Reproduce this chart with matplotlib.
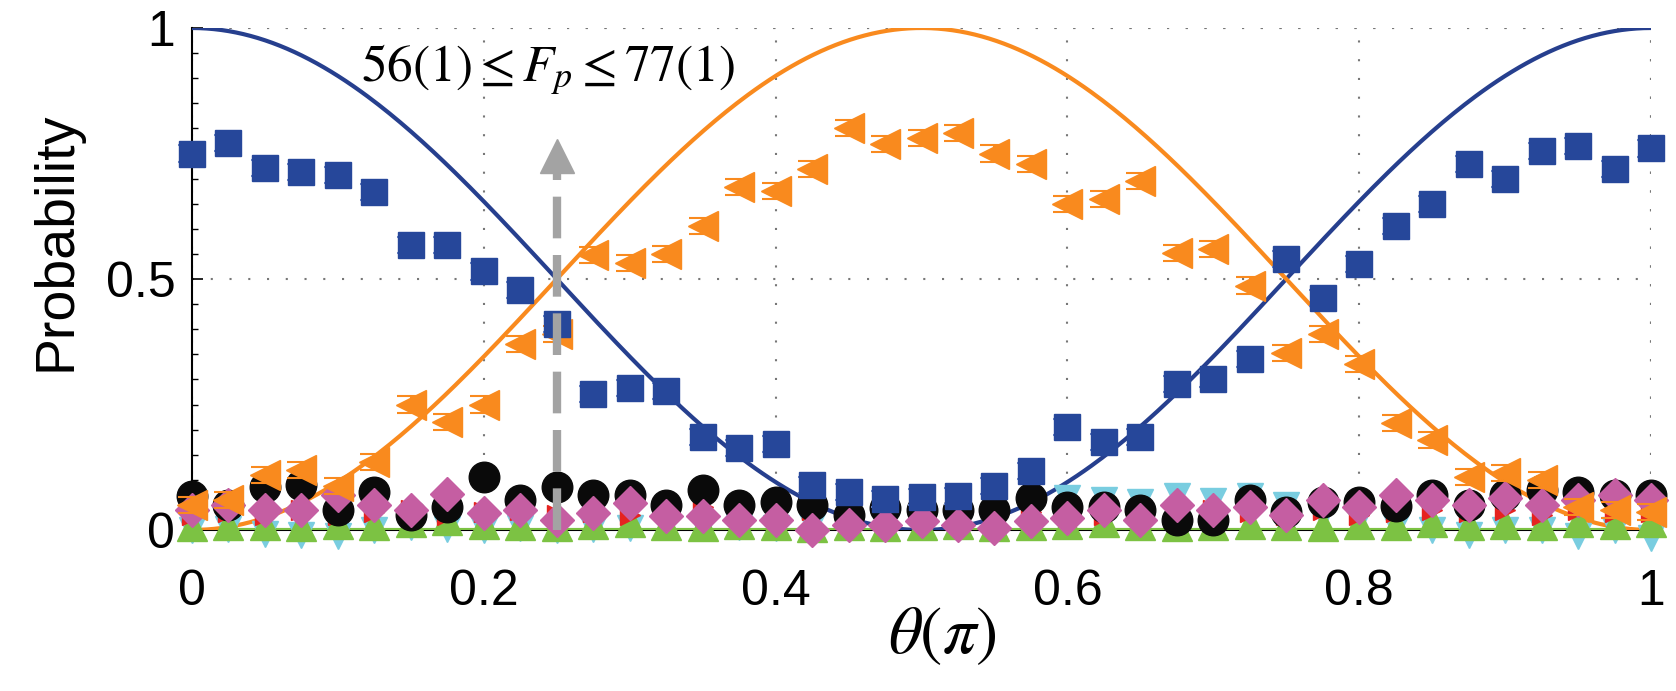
"""
Probability vs theta(pi): measured outcome probabilities with cos^2 / sin^2 theory curves.
"""
import numpy as np
import matplotlib
matplotlib.use("Agg")
import matplotlib.pyplot as plt

plt.rcParams["font.family"] = ["Liberation Sans", "DejaVu Sans"]
plt.rcParams["mathtext.fontset"] = "stix"

# ---------- data ----------
theta = [0.000, 0.025, 0.050, 0.075, 0.100, 0.125, 0.150, 0.175, 0.200, 0.225,
         0.250, 0.275, 0.300, 0.325, 0.350, 0.375, 0.400, 0.425, 0.450, 0.475,
         0.500, 0.525, 0.550, 0.575, 0.600, 0.625, 0.650, 0.675, 0.700, 0.725,
         0.750, 0.775, 0.800, 0.825, 0.850, 0.875, 0.900, 0.925, 0.950, 0.975,
         1.000]

p_blue = [0.750, 0.770, 0.722, 0.713, 0.708, 0.673, 0.567, 0.567, 0.515, 0.478,
          0.410, 0.270, 0.283, 0.277, 0.185, 0.163, 0.172, 0.090, 0.075, 0.062,
          0.066, 0.068, 0.088, 0.118, 0.205, 0.175, 0.185, 0.290, 0.300, 0.340,
          0.540, 0.462, 0.530, 0.605, 0.650, 0.730, 0.700, 0.755, 0.765, 0.720,
          0.760]
err_blue = [0.016] * 41

p_orange = [0.050, 0.060, 0.110, 0.120, 0.088, 0.136, 0.250, 0.215, 0.250, 0.370,
            0.390, 0.548, 0.531, 0.550, 0.606, 0.684, 0.675, 0.720, 0.800, 0.768,
            0.780, 0.790, 0.750, 0.730, 0.650, 0.660, 0.696, 0.552, 0.560, 0.487,
            0.353, 0.390, 0.330, 0.213, 0.180, 0.106, 0.113, 0.100, 0.045, 0.040,
            0.035]
err_orange = [0.016] * 41

p_black = [0.068, 0.050, 0.085, 0.090, 0.040, 0.075, 0.030, 0.045, 0.105, 0.060,
           0.085, 0.070, 0.070, 0.050, 0.080, 0.050, 0.055, 0.050, 0.030, 0.044,
           0.040, 0.040, 0.040, 0.063, 0.045, 0.045, 0.040, 0.020, 0.020, 0.060,
           0.035, 0.055, 0.055, 0.048, 0.070, 0.050, 0.070, 0.080, 0.075, 0.070,
           0.070]

p_pink = [0.040, 0.050, 0.040, 0.040, 0.070, 0.050, 0.040, 0.072, 0.033, 0.040,
          0.020, 0.033, 0.053, 0.027, 0.027, 0.020, 0.020, 0.000, 0.010, 0.010,
          0.017, 0.010, 0.003, 0.017, 0.023, 0.040, 0.020, 0.050, 0.040, 0.045,
          0.030, 0.060, 0.045, 0.070, 0.060, 0.050, 0.064, 0.050, 0.060, 0.070,
          0.060]

p_green = [0.008, 0.010, 0.010, 0.008, 0.012, 0.010, 0.015, 0.020, 0.012, 0.010,
           0.008, 0.012, 0.015, 0.010, 0.008, 0.012, 0.010, 0.006, 0.010, 0.008,
           0.010, 0.012, 0.008, 0.010, 0.012, 0.015, 0.010, 0.008, 0.010, 0.012,
           0.010, 0.008, 0.012, 0.010, 0.015, 0.010, 0.012, 0.010, 0.015, 0.012,
           0.015]

p_cyan = [0.000, 0.002, -0.008, -0.010, -0.012, 0.000, 0.005, 0.002, 0.000, 0.003,
          0.000, 0.002, 0.004, 0.005, 0.003, 0.006, 0.004, 0.008, 0.010, 0.012,
          0.015, 0.020, 0.030, 0.045, 0.063, 0.060, 0.055, 0.067, 0.057, 0.067,
          0.050, 0.030, 0.020, 0.005, 0.000, -0.010, 0.000, 0.000, -0.012, 0.000,
          -0.015]

p_red = [0.030, 0.035, 0.030, 0.040, 0.030, 0.035, 0.040, 0.030, 0.035, 0.040,
         0.030, 0.035, 0.030, 0.040, 0.045, 0.035, 0.030, 0.040, 0.030, 0.035,
         0.030, 0.040, 0.030, 0.035, 0.040, 0.030, 0.035, 0.030, 0.040, 0.035,
         0.030, 0.040, 0.030, 0.035, 0.040, 0.035, 0.040, 0.030, 0.040, 0.035,
         0.035]

x_ticks = [0, 0.2, 0.4, 0.6, 0.8, 1]
x_ticklabels = ["0", "0.2", "0.4", "0.6", "0.8", "1"]
y_ticks = [0, 0.5, 1]
y_ticklabels = ["0", "0.5", "1"]

BLUE = "#26479a"
BLUE_LINE = "#263f8e"
ORANGE = "#f98a1e"
BLACK = "#0a0a0a"
PINK = "#c55ea2"
GREEN = "#7cc243"
CYAN = "#79cde0"
RED = "#e52320"
GRAY = "#a3a3a3"
GRID = "#777777"

# ---------- figure ----------
fig = plt.figure(figsize=(16.76, 6.91), dpi=100)
ax = fig.add_axes([192 / 1676, 1 - 530 / 691, 1459 / 1676, 502 / 691])

# theory curves
th = np.linspace(0, 1, 400)
ax.plot(th, np.cos(np.pi * th) ** 2, color=BLUE_LINE, lw=3.0, zorder=3)
ax.plot(th, np.sin(np.pi * th) ** 2, color=ORANGE, lw=3.0, zorder=3)
ax.plot(th, np.zeros_like(th), color=GREEN, lw=3.0, zorder=2)

# small-probability outcomes
kw = dict(linestyle="none", clip_on=False)
ax.plot(theta, p_cyan, marker="v", ms=19, color=CYAN, zorder=4, **kw)
ax.plot(theta, p_green, marker="^", ms=21, color=GREEN, zorder=5, **kw)
ax.plot(theta, p_red, marker=">", ms=15, color=RED, zorder=6, **kw)
ax.plot(theta, p_black, marker="o", ms=22, color=BLACK, zorder=7, **kw)
ax.plot(theta, p_pink, marker="D", ms=17, color=PINK, zorder=8, **kw)

# main outcomes with error bars
ax.errorbar(theta, p_orange, yerr=err_orange, fmt="<", ms=21, color=ORANGE,
            ecolor=ORANGE, elinewidth=1.5, capsize=10, capthick=1.5,
            zorder=9, clip_on=False)
ax.errorbar(theta, p_blue, yerr=err_blue, fmt="s", ms=19, color=BLUE,
            ecolor="#6d86c4", elinewidth=1.5, capsize=10, capthick=1.5,
            zorder=10, clip_on=False)

# dashed arrow at theta = pi/4
ax.plot([0.25, 0.25], [0.0, 0.72], color=GRAY, lw=6, dashes=(5, 2), zorder=11)
ax.plot([0.25], [0.745], marker="^", ms=24, color=GRAY, zorder=11, clip_on=False)

ax.text(0.244, 0.895, r"$56\left(1\right)\leq F_p\leq 77\left(1\right)$", fontsize=37,
        ha="center", va="baseline", zorder=12)

# ---------- axes styling ----------
ax.set_xlim(0, 1)
ax.set_ylim(0, 1)
ax.set_xticks(x_ticks)
ax.set_xticklabels(x_ticklabels)
ax.set_yticks(y_ticks)
ax.set_yticklabels(y_ticklabels)
ax.set_yticks(np.arange(0, 1.0001, 0.05), minor=True)
ax.tick_params(axis="both", which="major", direction="in", labelsize=36, length=8, width=1.2)
ax.tick_params(axis="x", which="major", pad=28)
ax.tick_params(axis="y", which="major", pad=12)
ax.tick_params(axis="y", which="minor", direction="in", length=4, width=1.0)
ax.tick_params(axis="x", which="both", length=0)

for side in ("top", "right"):
    ax.spines[side].set_visible(False)
ax.spines["left"].set_linewidth(1.5)
ax.spines["bottom"].set_linewidth(1.5)
ax.spines["bottom"].set_zorder(1)

ax.grid(True, which="major", linestyle=(0, (1, 8)), color=GRID, lw=1.5)
ax.set_axisbelow(True)
# dotted grid lines along the top and right edge
ax.axhline(1, linestyle=(0, (1, 8)), color=GRID, lw=1.5, zorder=0)
ax.axvline(1, linestyle=(0, (1, 8)), color=GRID, lw=1.5, zorder=0)

ax.set_ylabel("Probability", fontsize=40)
ax.yaxis.set_label_coords(-0.075, 0.575)
ax.set_xlabel(r"$\theta\left(\pi\right)$", fontsize=48)
ax.xaxis.set_label_coords(0.514, -0.15)

fig.savefig("out.png", dpi=100, facecolor="white")
